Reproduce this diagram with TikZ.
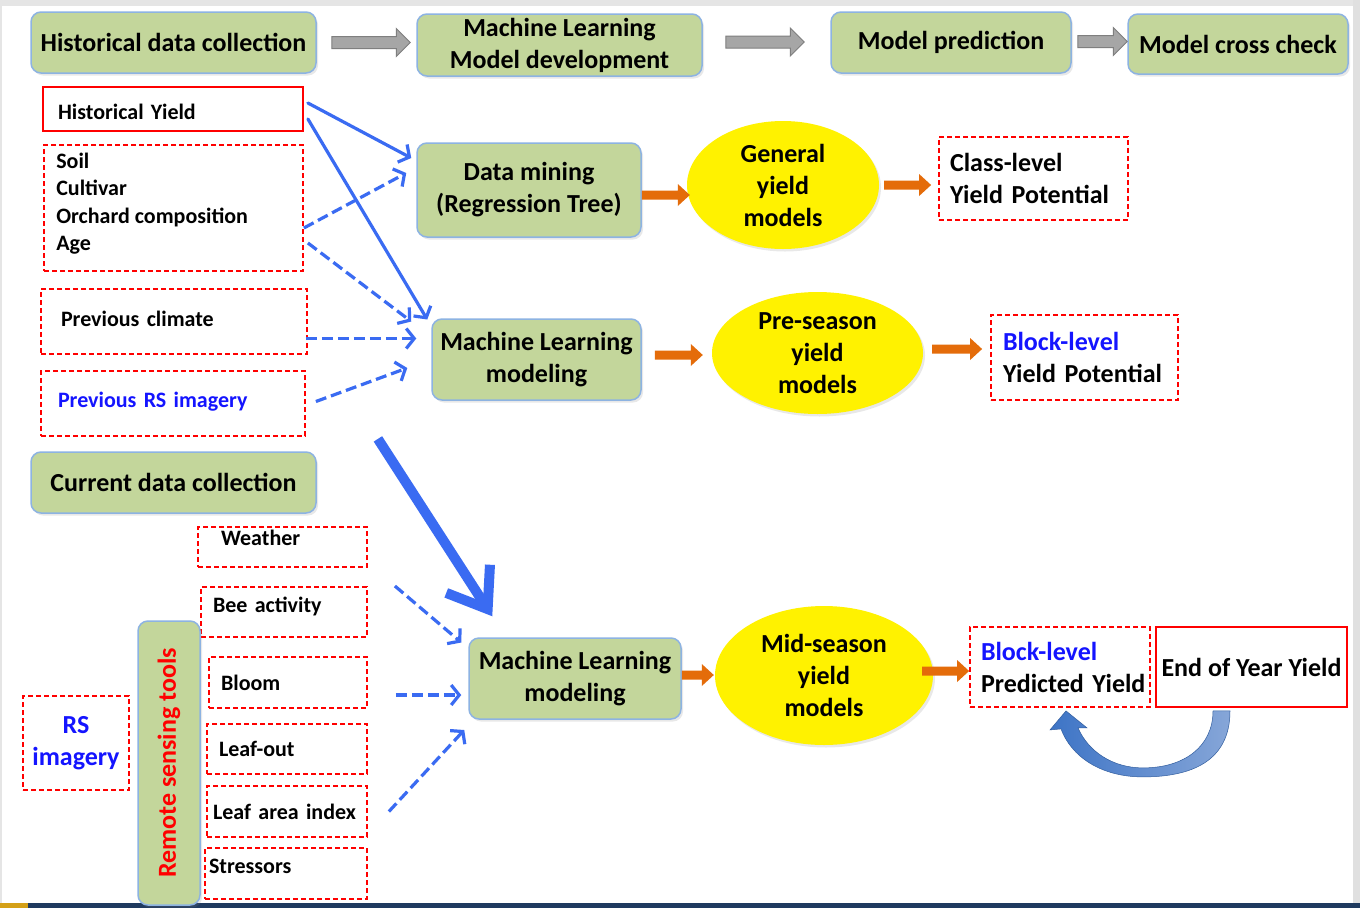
\documentclass[tikz,border=0pt]{standalone}
\usepackage{fontspec}
\setmainfont{Carlito}
\usetikzlibrary{arrows.meta,shapes.geometric,calc,shadows}
\definecolor{gfill}{HTML}{C3D69B}
\definecolor{gborder}{HTML}{8DB3E2}
\definecolor{ablue}{HTML}{3A6BF2}
\definecolor{aorange}{HTML}{E46C0A}
\definecolor{tblue}{HTML}{1414FF}
\definecolor{rred}{HTML}{FF0000}
\definecolor{garrow}{HTML}{A6A6A6}
\definecolor{gdark}{HTML}{7F7F7F}
\definecolor{cblueL}{HTML}{3D74C6}
\definecolor{cblueR}{HTML}{86A6D8}
\definecolor{navy}{HTML}{1F3A5F}
\definecolor{gold}{HTML}{D4A017}
\newcommand\blockarr[6]{%
  \path[#1] let \p1=(#2), \p2=(#3) in
    (\x1,\y1+#4) -- (\x2-#6,\y1+#4) -- (\x2-#6,\y1+#5) -- (\x2,\y1)
    -- (\x2-#6,\y1-#5) -- (\x2-#6,\y1-#4) -- (\x1,\y1-#4) -- cycle;}
\begin{document}
\begin{tikzpicture}[x=1pt,y=-1pt,
  font=\bfseries\fontsize{26}{32}\selectfont,
  small/.style={font=\bfseries\fontsize{22}{27.5}\selectfont},
  softshadow/.style={drop shadow={opacity=0.18, shadow xshift=2pt, shadow yshift=-2.5pt}},
  greenbox/.style={draw=gborder, line width=1.5pt, fill=gfill, rounded corners=10pt, align=center, inner sep=0pt, softshadow},
  redsolid/.style={draw=rred, line width=1.8pt, inner sep=0pt},
  reddash/.style={draw=rred, line width=1.8pt, dash pattern=on 5pt off 3pt, inner sep=0pt},
  lefttxt/.style={align=left, inner xsep=#1},
  yell/.style={ellipse, fill=yellow, draw=none, align=center, inner sep=0pt, softshadow},
  barrow/.style={draw=ablue, line width=3.2pt, line cap=round, -{Straight Barb[length=8pt,width=20pt]}},
  bdash/.style={barrow, line cap=butt, dash pattern=on 11pt off 5pt},
  bigarrow/.style={draw=ablue, line width=10pt, -{Straight Barb[length=36pt,width=52pt]}},
  garr/.style={fill=garrow, draw=gdark, line width=1pt},
  oarr/.style={fill=aorange},
]
\useasboundingbox (0,0) rectangle (1360,908);
% frame
\fill[white] (0,0) rectangle (1360,908);
\fill[black!10] (0,0) rectangle (1360,6);
\fill[black!10] (0,0) rectangle (2,908);
\fill[black!12] (1353,0) rectangle (1360,908);
\fill[navy] (0,903) rectangle (1360,908);
\fill[gold] (0,903) rectangle (28,908);

% top row
\node[greenbox, minimum width=285pt, minimum height=61pt] (H1) at (173.5,42.5) {Historical data collection};
\node[greenbox, minimum width=285pt, minimum height=62pt] (H2) at (559.5,45) {Machine Learning\\Model development};
\node[greenbox, minimum width=240pt, minimum height=61pt] (H3) at (951,42.5) {Model prediction};
\node[greenbox, minimum width=220pt, minimum height=60pt] (H4) at (1238,44) {Model cross check};

% historical inputs
\node[redsolid, small, lefttxt=15pt, text width=230pt, minimum height=44pt, text height=20pt, text depth=0pt] (HY) at (173,109) {Historical Yield};
\node[reddash, minimum width=259pt, minimum height=126pt] (SOIL) at (173.5,208) {};
\node[small, align=left, inner sep=0pt, anchor=west] (SOILT) at ($(SOIL.west)+(13,-4.5)$) {Soil\\Cultivar\\Orchard composition\\Age};
\node[reddash, small, lefttxt=20pt, text width=226pt, minimum height=65pt, text depth=6pt] (PC) at (174,321.5) {Previous climate};
\node[reddash, small, lefttxt=17pt, text width=230pt, minimum height=65pt, text=tblue, text depth=8pt] (PRS) at (173,403.5) {Previous RS imagery};
\node[greenbox, minimum width=285pt, minimum height=61pt] (CDC) at (173.5,482.5) {Current data collection};

% current inputs
\node[reddash, small, lefttxt=23pt, text width=123pt, minimum height=40pt, text depth=18pt] (WE) at (282.5,547) {Weather};
\node[reddash, small, lefttxt=12pt, text width=142pt, minimum height=50pt, text depth=14pt] (BEE) at (284,612) {Bee activity};
\node[reddash, small, lefttxt=12pt, text width=134pt, minimum height=51pt] (BL) at (288,682.5) {Bloom};
\node[reddash, small, lefttxt=12pt, text width=136pt, minimum height=50pt] (LO) at (287,749) {Leaf-out};
\node[reddash, small, lefttxt=6pt, text width=148pt, minimum height=51pt] (LAI) at (287,811.5) {Leaf area index};
\node[reddash, small, lefttxt=4pt, text width=154pt, minimum height=51pt, text depth=15pt] (ST) at (286,873.5) {Stressors};
\node[greenbox, rotate=90, minimum width=284pt, minimum height=62pt, text=rred] (RST) at (169,763) {Remote sensing tools};
\node[reddash, align=center, minimum width=106pt, minimum height=94pt, text=tblue] (RSI) at (76,743) {RS\\imagery};

% models
\node[greenbox, minimum width=224pt, minimum height=94pt] (DM) at (529,190) {Data mining\\(Regression Tree)};
\node[greenbox, minimum width=209pt, minimum height=81pt] (ML1) at (536.5,359.5) {Machine Learning\\modeling};
\node[greenbox, minimum width=212pt, minimum height=81pt] (ML2) at (575,678.5) {Machine Learning\\modeling};
\node[yell, minimum width=192pt, minimum height=128pt] (E1) at (783,185) {General\\yield\\models};
\node[yell, minimum width=211pt, minimum height=122pt] (E2) at (817.5,353) {Pre-season\\yield\\models};
\node[yell, minimum width=218pt, minimum height=139pt] (E3) at (824,675.5) {Mid-season\\yield\\models};

% outputs
\node[reddash, lefttxt=11pt, text width=167pt, minimum height=83pt] (CL) at (1033.5,178.5) {Class-level\\Yield Potential};
\node[reddash, lefttxt=12pt, text width=163pt, minimum height=85pt] (BLP) at (1084.5,357.5) {\textcolor{tblue}{Block-level}\\Yield Potential};
\node[reddash, lefttxt=2pt, text width=176pt, minimum height=80pt] (BP) at (1060,667) {\hspace*{9pt}\textcolor{tblue}{Block-level}\\\hspace*{9pt}Predicted Yield};
\node[redsolid, align=center, minimum width=191pt, minimum height=80pt] (EY) at (1251.5,667) {End of Year Yield};

% gray top arrows
\blockarr{garr}{$(H1.east)+(15,0)$}{$(H2.west)+(-6,0)$}{6pt}{14pt}{14pt}
\blockarr{garr}{$(H2.east)+(23,-3)$}{$(H3.west)+(-26,-3)$}{6pt}{14pt}{14pt}
\blockarr{garr}{$(H3.east)+(6,-1)$}{$(H4.west)+(0,-1)$}{6pt}{14pt}{14pt}

% orange arrows
\blockarr{oarr}{$(DM.east)+(0,5)$}{$(E1.west)+(3,10)$}{4.5pt}{11pt}{12pt}
\blockarr{oarr}{$(E1.east)+(5,0)$}{$(CL.west)+(-7,6.5)$}{4.5pt}{11pt}{12pt}
\blockarr{oarr}{$(ML1.east)+(13,-4.5)$}{$(E2.west)+(-9,2)$}{4.5pt}{11pt}{12pt}
\blockarr{oarr}{$(E2.east)+(9,-4)$}{$(BLP.west)+(-8,-8.5)$}{4.5pt}{11pt}{12pt}
\blockarr{oarr}{$(ML2.east)+(0,-3.5)$}{$(E3.west)+(-1,-0.5)$}{4.5pt}{11pt}{12pt}
\blockarr{oarr}{$(E3.east)+(-11,-4.5)$}{$(BP.west)+(0,4)$}{4.5pt}{11pt}{12pt}

% blue arrows (historical)
\draw[barrow] ($(HY.east)+(4,-6)$) -- ($(DM.west)+(-5,-32)$);
\draw[barrow] ($(HY.east)+(4,10)$) -- ($(ML1.west)+(-4,-40)$);
\draw[bdash] ($(SOIL.east)+(0,20)$) -- ($(DM.west)+(-10,-17)$);
\draw[bdash] ($(SOIL.east)+(4,35)$) -- ($(ML1.west)+(-20,-38)$);
\draw[bdash] ($(PC.east)+(-2,17)$) -- ($(ML1.west)+(-15,-21)$);
\draw[bdash] ($(PRS.east)+(10,-2)$) -- ($(ML1.west)+(-24,8.5)$);
\draw[bigarrow] ($(PRS.south east)+(72,2)$) -- ($(ML2.north west)+(24,-21)$);

% blue arrows (current)
\draw[bdash] ($(BEE.east)+(27,-26)$) -- ($(ML2.west)+(-7,-36)$);
\draw[bdash] ($(BL.east)+(28,12.5)$) -- ($(ML2.west)+(-7,16.5)$);
\draw[bdash] ($(LAI.east)+(21,0)$) -- ($(ML2.west)+(-4,51.5)$);

% curved feedback arrow
\begin{scope}[shift={(EY.south)}]
\path[left color=cblueL, right color=cblueR, draw=cblueL!80!black, line width=0.5pt]
  (-21.5,3) .. controls (-21.5,53) and (-59.5,69) .. (-108.5,69)
  .. controls (-151.5,69) and (-180.5,48) .. (-190.5,21)
  -- (-201.5,22) -- (-185.5,3) -- (-164.5,20) -- (-173.5,20)
  .. controls (-163.5,43) and (-139.5,60) .. (-108.5,60)
  .. controls (-66.5,60) and (-38.5,38) .. (-38.5,3) -- cycle;
\end{scope}
\end{tikzpicture}
\end{document}
